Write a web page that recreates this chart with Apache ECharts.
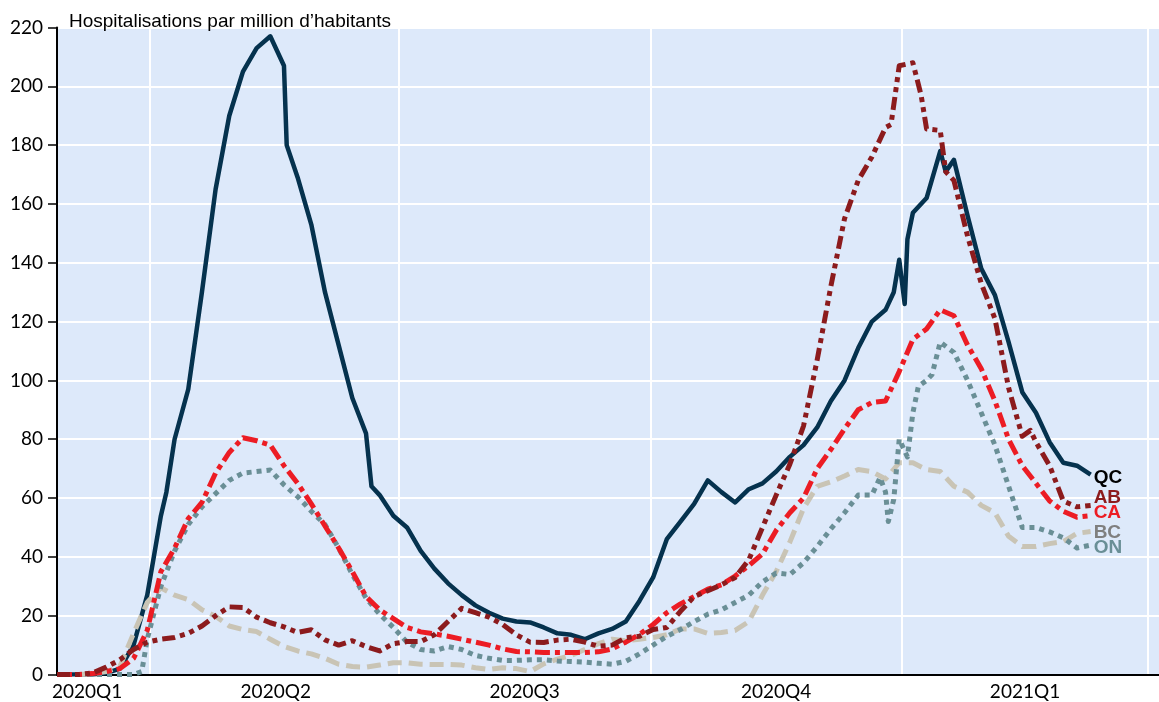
<!DOCTYPE html>
<html>
<head>
<meta charset="utf-8">
<script src="https://cdn.jsdelivr.net/npm/echarts@6/dist/echarts.min.js"></script>
<style>
html,body{margin:0;padding:0;background:#fff;}
#chart{width:1159px;height:702px;}
</style>
</head>
<body>
<div id="chart"></div>
<script>
// ---- Data ----
const titleText = 'Hospitalisations par million d’habitants';
const axisStart = '2020-02-27';
const axisEnd = '2021-04-05';
const quarterStarts = ['2020-04-01', '2020-07-01', '2020-10-01', '2021-01-01', '2021-04-01'];
const quarterLabelDates = ['2020-03-09', '2020-05-17', '2020-08-16', '2020-11-16', '2021-02-15'];
const quarterLabels = ['2020Q1', '2020Q2', '2020Q3', '2020Q4', '2021Q1'];
const yTicks = [0, 20, 40, 60, 80, 100, 120, 140, 160, 180, 200, 220];

const dates = ['2020-02-27','2020-03-01','2020-03-06','2020-03-11','2020-03-16','2020-03-21','2020-03-26','2020-03-31','2020-04-05','2020-04-10','2020-04-15','2020-04-20','2020-04-25','2020-04-30','2020-05-05','2020-05-10','2020-05-15','2020-05-20','2020-05-25','2020-05-30','2020-06-04','2020-06-09','2020-06-14','2020-06-19','2020-06-24','2020-06-29','2020-07-04','2020-07-09','2020-07-14','2020-07-19','2020-07-24','2020-07-29','2020-08-03','2020-08-08','2020-08-13','2020-08-18','2020-08-23','2020-08-28','2020-09-02','2020-09-07','2020-09-12','2020-09-17','2020-09-22','2020-09-27','2020-10-02','2020-10-07','2020-10-12','2020-10-17','2020-10-22','2020-10-27','2020-11-01','2020-11-06','2020-11-11','2020-11-16','2020-11-21','2020-11-26','2020-12-01','2020-12-06','2020-12-11','2020-12-16','2020-12-21','2020-12-26','2020-12-31','2021-01-05','2021-01-10','2021-01-15','2021-01-20','2021-01-25','2021-01-30','2021-02-04','2021-02-09','2021-02-14','2021-02-19','2021-02-24','2021-03-01','2021-03-06','2021-03-11'];

const qcValues = [0,0,0,0,0.5,2,10,27,54,80,97,130,165,190,205,213,217,207,169,153,130,112,94,82,61,54,50,42,36,31,27,23.5,21,19,18,17.7,16,14,13.5,12,14,15.5,18,25,33,46,52,58,66,62,58.5,63,65,69,74,78,84,93,100,111,120,124,141,157,162,178,175,156,138,129,113,96,89,79,72,71,68];
const qcExtraDates = ['2020-04-07','2020-05-21','2020-06-21','2020-12-29','2021-01-02','2021-01-03','2021-01-17'];
const qcExtraValues = [62,180,64,130,126,148,171];

const abValues = [0,0,0,0.5,2.5,5,8.5,11,12,12.6,14,16.5,20,23,22.8,19.5,17.6,16.2,14.3,15.2,11.8,10,11.5,9.5,8,10.5,11.2,11.2,13.5,18,22.5,21,19.5,17,13.5,11,10.9,11.7,12,11,9.6,10,12.5,13,15.3,16,21.5,26.5,28.5,30.5,33,39,50,61,71.5,84.5,107,132,155,168,176,186,207,208,185.5,185,168,149,133,121,97.5,81,79,71,59,57,57.5];
const abExtraDates = ['2020-12-28','2021-01-08','2021-01-17','2021-02-17'];
const abExtraValues = [187,197,171,83];

const caValues = [0,0,0,0.3,1,2,5.5,15,35,43,53,58.5,68.5,75.5,80.5,79.5,78,71,65,58,50.5,43,35,26.5,22,19,16,14.5,13.8,13,12,11,10,8.7,7.8,7.7,7.5,7.5,7.5,7.5,7.7,8.7,11,13.6,17,21,24,26.5,29,30.5,33.5,37,41,49,55,60,70,76.5,83.5,90,92.5,93,103,114,117.5,124,122,112,104,93,80,71,65,59,55.5,53.5,54];
const caExtraDates = [];
const caExtraValues = [];

const bcValues = [0,0,0,0.3,1,2.7,14,24.5,29.5,27,25.5,22,19.8,16.5,15.3,14.6,12,9.5,8,7,5.5,3.5,2.7,2.5,3.2,4,4,3.5,3.4,3.4,3.2,2.3,1.7,2.3,2,1,3.6,5.2,6.5,8.5,10.5,12,11.5,12,12.6,13.5,15.5,15.5,14,14.3,15,18,27,35,45,56.5,64,65.5,67.5,69.7,69,66.5,72,72,69.7,69,64,62,57.5,55,47,43.5,43.5,44.5,45.2,48,48.6];
const bcExtraDates = [];
const bcExtraValues = [];

const onValues = [0,0,0,0,0,0,0,12,30,42,51,57,61.5,66,68.5,69,69.5,64.5,60.5,55.5,51,43,34,26,20.5,16,11,8.5,8,9.5,8.5,6.5,5.5,4.8,4.8,5,5,4.6,4.4,4.2,3.8,3.5,4.5,7,10,13,15.3,18,20.5,22,24.5,27,31.5,34.5,34,38,43.5,49.5,55,61,61,62,80,89,100,113,109.5,100,89,78,64,50,50,48.5,46.5,43,44];
const onExtraDates = ['2020-03-29','2020-12-24','2020-12-27','2020-12-29','2021-01-03','2021-01-07','2021-01-12'];
const onExtraValues = [1,67,52,59.5,74,98,102];

// ---- Build axis categories (one per day) ----
function buildDays(a, b) {
  const out = [];
  const d = new Date(a + 'T00:00:00Z');
  const end = new Date(b + 'T00:00:00Z');
  while (d <= end) {
    out.push(d.toISOString().slice(0, 10));
    d.setUTCDate(d.getUTCDate() + 1);
  }
  return out;
}
const days = buildDays(axisStart, axisEnd);

function pairs(vals, exDates, exVals) {
  const p = dates.map((d, i) => [d, vals[i]]);
  exDates.forEach((d, i) => p.push([d, exVals[i]]));
  p.sort((a, b) => (a[0] < b[0] ? -1 : a[0] > b[0] ? 1 : 0));
  return p;
}

const labelFont = 'Lato, "Open Sans", sans-serif';
const boldFont = '"Liberation Sans", Arial, sans-serif';

function mkSeries(name, data, color, width, dash, labelColor, dy, z) {
  return {
    name: name,
    type: 'line',
    data: data,
    showSymbol: false,
    symbol: 'none',
    smooth: false,
    z: z,
    lineStyle: { color: color, width: width, type: dash, cap: 'butt', join: 'round' },
    endLabel: {
      show: true,
      formatter: name,
      color: labelColor,
      fontWeight: 'bold',
      fontSize: 19,
      fontFamily: boldFont,
      distance: 3,
      offset: [0, dy]
    },
    emphasis: { disabled: true }
  };
}

const chart = echarts.init(document.getElementById('chart'), null, { renderer: 'canvas' });
chart.setOption({
  animation: false,
  backgroundColor: '#ffffff',
  title: {
    text: titleText,
    left: 64,
    top: 7,
    textStyle: { fontSize: 19, fontWeight: 'normal', color: '#000', fontFamily: boldFont }
  },
  grid: {
    left: 57, right: 0, top: 27.5, bottom: 27.5,
    show: true, backgroundColor: '#dde9fa', borderWidth: 0
  },
  xAxis: {
    type: 'category',
    data: days,
    boundaryGap: false,
    axisLine: { lineStyle: { color: '#000', width: 2 } },
    axisTick: { show: false },
    splitLine: {
      show: true,
      interval: (i, v) => quarterStarts.indexOf(v) >= 0,
      lineStyle: { color: '#ffffff', width: 2 }
    },
    axisLabel: {
      interval: (i, v) => quarterLabelDates.indexOf(v) >= 0,
      formatter: v => quarterLabels[quarterLabelDates.indexOf(v)],
      fontSize: 19,
      color: '#000',
      fontFamily: labelFont,
      margin: 8
    }
  },
  yAxis: {
    type: 'value',
    min: yTicks[0],
    max: yTicks[yTicks.length - 1],
    interval: yTicks[1] - yTicks[0],
    axisLine: { show: true, lineStyle: { color: '#000', width: 2 } },
    axisTick: { show: true, length: 9, lineStyle: { color: '#000', width: 1.5 } },
    splitLine: { show: true, lineStyle: { color: '#ffffff', width: 2 } },
    axisLabel: { fontSize: 19, color: '#000', fontFamily: labelFont, margin: 14 }
  },
  series: [
    mkSeries('QC', pairs(qcValues, qcExtraDates, qcExtraValues), '#05324e', 4.5, 'solid', '#000000', 3, 2),
    mkSeries('BC', pairs(bcValues, bcExtraDates, bcExtraValues), '#c9c4b5', 5, [14, 7], '#7f7f7f', 1, 3),
    mkSeries('ON', pairs(onValues, onExtraDates, onExtraValues), '#6a8f96', 5, [5, 5], '#6a8f96', 3, 4),
    mkSeries('CA', pairs(caValues, caExtraDates, caExtraValues), '#ec1c24', 5, [15, 5, 5, 5], '#ec1c24', -3, 5),
    mkSeries('AB', pairs(abValues, abExtraDates, abExtraValues), '#8c1b1d', 5, [13, 5, 5, 5, 5, 5], '#8c1b1d', -8, 6)
  ]
});
</script>
</body>
</html>
